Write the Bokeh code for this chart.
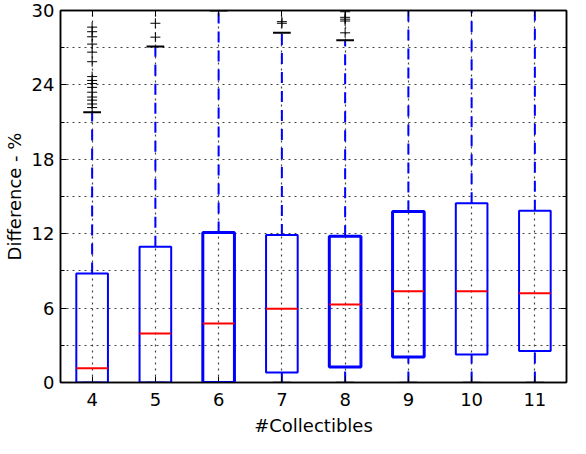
from bokeh.plotting import figure
from bokeh.models import FixedTicker, LinearAxis, Range1d
from bokeh.embed import file_html
from bokeh.resources import INLINE

# box statistics per number of collectibles
collectibles = [4, 5, 6, 7, 8, 9, 10, 11]
q1 = [0.0, 0.0, 0.0, 0.8, 1.25, 2.05, 2.25, 2.55]
median = [1.15, 3.95, 4.75, 5.95, 6.3, 7.35, 7.35, 7.2]
q3 = [8.8, 10.95, 12.1, 11.9, 11.8, 13.8, 14.45, 13.85]
whisker_lo = [0, 0, 0, 0, 0, 0, 0, 0]
whisker_hi = [21.8, 27.1, 30.0, 28.2, 27.6, 31.0, 31.0, 31.0]
box_lw = [2, 2, 3, 2, 3, 3, 2, 2]

# outliers (flattened)
outlier_x = [4] * 15 + [5, 5] + [7, 7] + [8, 8, 8, 8, 8]
outlier_y = [28.66, 28.29, 27.88, 27.29, 26.64, 25.87, 24.67, 24.36, 24.11,
             23.8, 23.41, 23.02, 22.77, 22.46, 22.17,
             27.85, 28.97,
             28.97, 29.1,
             29.9, 29.45, 29.3, 29.15, 28.2]

y_ticks = [0, 6, 12, 18, 24, 30]
y_minor = [3, 9, 15, 21, 27]

FONT = "DejaVu Sans"
GRID_DASH = "2 4"

p = figure(width=570, height=438, output_backend="svg", toolbar_location=None,
           x_range=Range1d(3.5, 11.5), y_range=Range1d(0, 30),
           min_border_left=59, min_border_right=4, min_border_top=10,
           min_border_bottom=52)
p.outline_line_color = "black"
p.outline_line_width = 1.5

half = 0.25
cap = 0.14

# whiskers
p.segment(collectibles, q3, collectibles, whisker_hi,
          line_color="blue", line_width=2, line_dash="11 8")
p.segment(collectibles, whisker_lo, collectibles, q1,
          line_color="blue", line_width=2, line_dash="11 8")

# caps
p.segment([c - cap for c in collectibles], whisker_hi,
          [c + cap for c in collectibles], whisker_hi,
          line_color="black", line_width=2)
p.segment([c - cap for c in collectibles], whisker_lo,
          [c + cap for c in collectibles], whisker_lo,
          line_color="black", line_width=2, line_alpha=0.5)

# boxes
p.vbar(x=collectibles, bottom=q1, top=q3, width=2 * half,
       fill_color=None, line_color="blue", line_width=box_lw)

# medians
p.segment([c - half for c in collectibles], median,
          [c + half for c in collectibles], median,
          line_color="red", line_width=2)

# outliers
p.scatter(outlier_x, outlier_y, marker="cross", size=10,
          line_color="black", line_width=1)

# axes
xax = p.below[0]
yax = p.left[0]
xax.ticker = FixedTicker(ticks=collectibles)
yax.ticker = FixedTicker(ticks=y_ticks, minor_ticks=y_minor)

top_axis = LinearAxis(ticker=FixedTicker(ticks=collectibles),
                      major_label_overrides={c: "" for c in collectibles})
right_axis = LinearAxis(ticker=FixedTicker(ticks=y_ticks, minor_ticks=y_minor),
                        major_label_overrides={t: "" for t in y_ticks})
for ax in (top_axis, right_axis):
    ax.major_label_standoff = 0
p.add_layout(top_axis, "above")
p.add_layout(right_axis, "right")

for ax in (xax, yax, top_axis, right_axis):
    ax.axis_line_color = "black"
    ax.axis_line_width = 1.5
    ax.major_tick_in = 6
    ax.major_tick_out = 0
    ax.minor_tick_in = 4
    ax.minor_tick_out = 0
    ax.major_tick_line_color = "black"
    ax.minor_tick_line_color = "black"
    ax.major_label_text_font = FONT
    ax.major_label_text_color = "black"
    ax.axis_label_text_font = FONT
    ax.axis_label_text_font_style = "normal"
    ax.axis_label_text_color = "black"

xax.major_label_text_font_size = "18px"
yax.major_label_text_font_size = "18px"
xax.major_label_standoff = 10
yax.major_label_standoff = 6
xax.axis_label = "#Collectibles"
yax.axis_label = "Difference - %"
xax.axis_label_text_font_size = "18px"
yax.axis_label_text_font_size = "18px"
xax.axis_label_standoff = 6
yax.axis_label_standoff = 4

# grid
for g in (p.xgrid, p.ygrid):
    g.grid_line_color = "#444444"
    g.grid_line_dash = GRID_DASH
    g.grid_line_width = 1.2
p.ygrid.minor_grid_line_color = "#444444"
p.ygrid.minor_grid_line_dash = GRID_DASH
p.ygrid.minor_grid_line_width = 1.2

open("out.html", "w").write(file_html(p, INLINE))
